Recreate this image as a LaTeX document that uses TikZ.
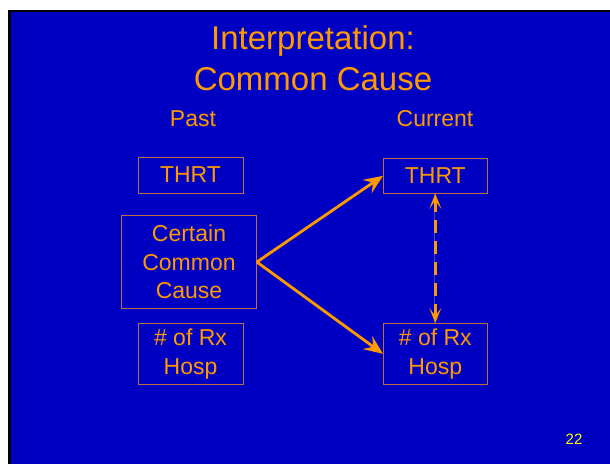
\documentclass[tikz,border=0pt]{standalone}
\usepackage{fontspec}
\setmainfont{Liberation Sans}
\usetikzlibrary{arrows.meta}
\definecolor{slideblue}{RGB}{0,0,194}
\definecolor{txtorange}{RGB}{255,153,0}
\definecolor{boxline}{RGB}{190,110,70}
\definecolor{pgnum}{RGB}{255,255,0}
\definecolor{thinline}{RGB}{70,70,150}
\tikzset{
  box/.style={draw=boxline, line width=0.7pt, text=txtorange, font=\fontsize{23}{29}\selectfont, align=center, inner sep=0pt},
  lbl/.style={text=txtorange, font=\fontsize{23}{27}\selectfont, inner sep=0pt},
  arr/.style={draw=txtorange, line width=2.8pt, -{Stealth[length=19pt,width=16pt,inset=7pt]}},
  darr/.style={draw=txtorange, line width=2.6pt, dash pattern=on 13pt off 8pt, {Stealth[length=15pt,width=12pt,inset=8pt]}-{Stealth[length=15pt,width=12pt,inset=8pt]}}
}
\begin{document}
\begin{tikzpicture}[x=1pt,y=-1pt]
\useasboundingbox (0,0) rectangle (610,464);
\fill[white] (0,0) rectangle (610,464);
\fill[black] (8,10) rectangle (610,464);
\fill[slideblue] (11,12) rectangle (610,464);
\node[text=txtorange, font=\fontsize{33}{41}\selectfont, align=center, inner sep=0pt] (title) at (313,58) {Interpretation:\\Common Cause};
\node[lbl] (past) at (193,119) {Past};
\node[lbl] (current) at (435,119) {Current};
\node[box, minimum width=105pt, minimum height=36pt] (thrtL) at (190.5,175) {THRT};
\node[box, minimum width=135pt, minimum height=93pt, font=\fontsize{23}{28.5}\selectfont] (cause) at (189,262) {Certain\\Common\\Cause};
\node[box, minimum width=105pt, minimum height=61pt] (hospL) at (190.5,354) {\# of Rx\\Hosp};
\node[box, minimum width=104pt, minimum height=35pt] (thrtR) at (435.3,175.8) {THRT};
\node[box, minimum width=104pt, minimum height=61pt] (hospR) at (435.3,353.8) {\# of Rx\\Hosp};
\draw[arr] (cause.east) -- (thrtR.west);
\draw[arr] (cause.east) -- (hospR.west);
\draw[thinline, line width=0.6pt] ([xshift=-1.5pt]thrtR.south) -- ([xshift=-1.5pt]hospR.north);
\draw[darr] (hospR.north) -- (thrtR.south);
\node[text=pgnum, font=\fontsize{15}{18}\selectfont, inner sep=0pt] (pg) at (574,439) {22};
\end{tikzpicture}
\end{document}
